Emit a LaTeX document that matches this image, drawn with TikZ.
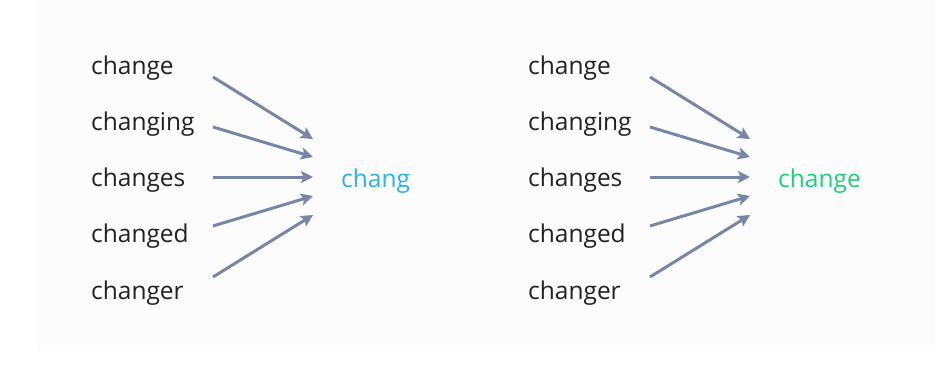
\documentclass[tikz,border=0pt]{standalone}
\usepackage{fontspec}
\setmainfont{Open Sans}
\usetikzlibrary{arrows.meta}
\definecolor{panel}{HTML}{FCFCFC}
\definecolor{ink}{HTML}{222222}
\definecolor{arrowgray}{HTML}{7886A6}
\definecolor{stemblue}{HTML}{29B3E3}
\definecolor{stemgreen}{HTML}{1FCF7C}
\tikzset{word/.style = {anchor=base west, inner sep=0pt, text=ink,
                        font=\fontsize{24.5}{28}\selectfont},
         feed/.style = {draw=arrowgray, line width=3pt,
                        -{Stealth[length=12pt,width=12pt,inset=2.5pt]}}}

\begin{document}
\begin{tikzpicture}[x=1pt, y=1pt]
    \useasboundingbox (0, 0) rectangle (945, 368);
    \fill [panel] (37, 18) rectangle (935, 368);
    % two groups: stemmer on the left, lemmatizer on the right
    \foreach \dx/\root/\col/\g in {0/chang/stemblue/L, 437/change/stemgreen/R} {
      \begin{scope}[xshift=\dx]
        \foreach \w [count=\i] in {change, changing, changes, changed, changer}
          \node [word] (word\g\i) at (91, 350.25 - 56.25*\i) {\w};
        \node [word, text=\col] (root\g) at (341, 181) {\root};
        \foreach \a/\b [count=\i] in {291/229, 241/211, 191/191, 142/172, 91/153} {
          \coordinate (tail\g\i) at (213, \a);
          \coordinate (head\g\i) at (313, \b);
          \draw [feed] (tail\g\i) -- (head\g\i);
        }
      \end{scope}
    }
\end{tikzpicture}
\end{document}
